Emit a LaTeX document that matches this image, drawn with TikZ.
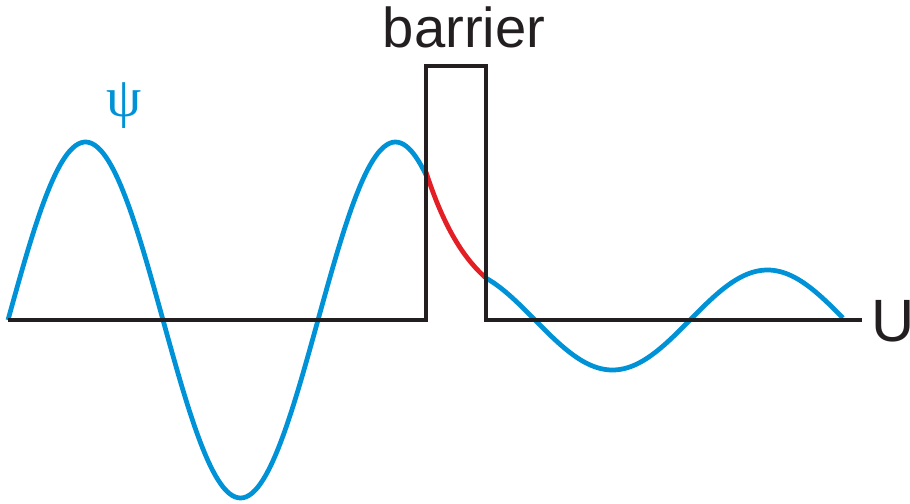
\documentclass[tikz,border=0pt]{standalone}
\usepackage{fontspec}
\setmainfont{Liberation Sans}
\newfontfamily\psifont{Liberation Serif}
\usepackage{tikz}
\usetikzlibrary{calc}
\usepackage{tkz-euclide}

\definecolor{psiblue}{RGB}{0,146,214}
\definecolor{tunnelred}{RGB}{228,30,37}
\definecolor{wallblack}{RGB}{35,31,32}

\begin{document}
\begin{tikzpicture}[wave/.style={line width=2.7pt, color=psiblue},
                    decay/.style={line width=2.7pt, color=tunnelred},
                    wall/.style={line width=2.6pt, color=wallblack, line join=miter}]
                \useasboundingbox (0,-3.66) rectangle (18.2,6.4);
                \tkzDefPoint(0.16,0){O}
                \tkzDefPoint(8.52,0){A}
                \tkzDefPoint(8.52,5.08){B}
                \tkzDefPoint(9.72,5.08){C}
                \tkzDefPoint(9.72,0){D}
                \tkzDefPoint(17.24,0){E}
                % incoming wave, decay inside, transmitted wave
                \draw[wave] plot[domain=0.16:8.52, samples=150, smooth] (\x, {3.56*sin(360*(\x-0.16)/6.2)});
                \draw[decay] plot[domain=8.52:9.72, samples=40, smooth] (\x, {2.96*exp(-1.05*(\x-8.52))});
                \draw[wave] plot[domain=9.72:16.86, samples=120, smooth] (\x, {-sin(360*(\x-10.7)/6.2)});
                \draw[wall] (O) -- (A) -- (B) -- (C) -- (D) -- (E);
                \node[inner sep=0pt, anchor=base, font=\fontsize{32}{38}\selectfont, text=wallblack] (barrierlbl) at ($(B)!0.5!(C)+(0.16,0.38)$) {barrier};
                \node[inner sep=0pt, anchor=base west, font=\fontsize{34}{40}\selectfont, text=wallblack] (ulbl) at (17.43,-0.42) {U};
                \node[inner sep=0pt, font=\psifont\fontsize{32}{38}\selectfont, text=psiblue] (psilbl) at (2.48,4.28) {ψ};
            \end{tikzpicture}
\end{document}
